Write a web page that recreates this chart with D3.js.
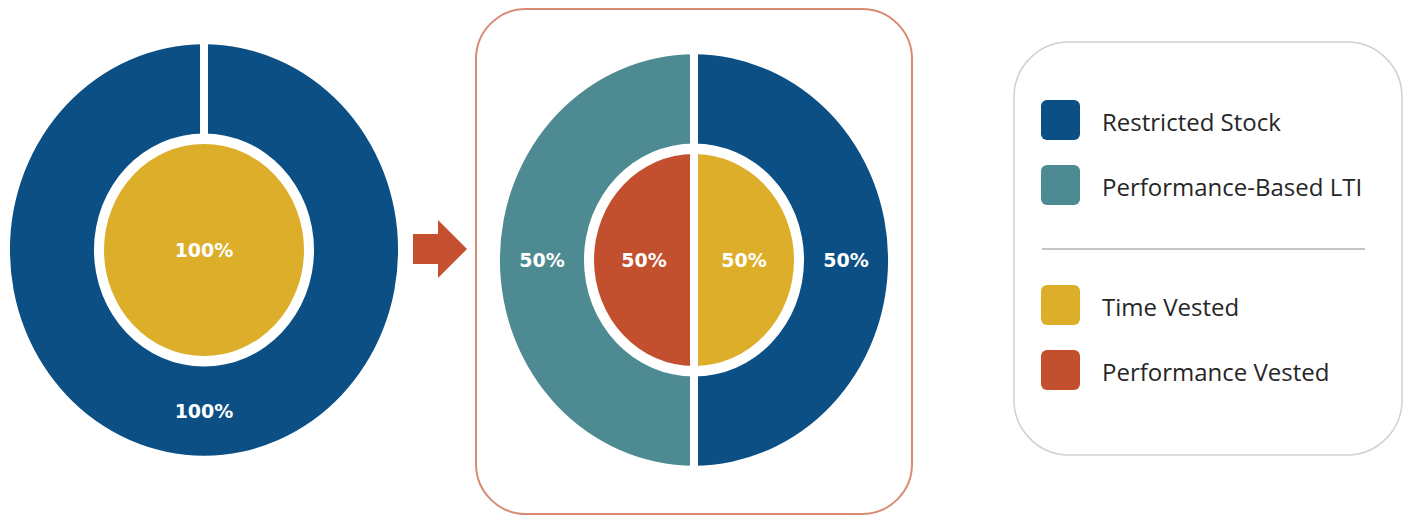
<!DOCTYPE html>
<html>
<head>
<meta charset="utf-8">
<script src="https://cdn.jsdelivr.net/npm/d3@7"></script>
<style>
  html, body { margin: 0; padding: 0; background: #fff; }
  svg { display: block; }
</style>
</head>
<body>
<div id="chart"></div>
<script>
// award vehicles (outer ring) and vesting types (inner pie)
const vehicles = ["Restricted Stock", "Performance-Based LTI"];
const vesting = ["Time Vested", "Performance Vested"];

const beforeVehicleShare = [100, 0];
const beforeVestingShare = [100, 0];
const afterVehicleShare = [50, 50];
const afterVestingShare = [50, 50];

const legendLabels = ["Restricted Stock", "Performance-Based LTI", "Time Vested", "Performance Vested"];

const width = 1409;
const height = 519;

const color = d3.scaleOrdinal()
    .domain(legendLabels)
    .range(["#0b4f84", "#4e8a91", "#ddae2a", "#c24f2e"]);

const svg = d3.select("#chart")
    .append("svg")
    .attr("width", width)
    .attr("height", height);

const pie = d3.pie().sort(null).value(d => d.value);

const outerR = 194, ringInner = 110, innerR = 100;
const squash = 1.06; // the picture is a bit taller than wide

function drawDonut(cx, cy, vehicleShare, vestingShare) {
    const g = svg.append("g")
        .attr("transform", `translate(${cx},${cy}) scale(1,${squash})`);
    const labels = svg.append("g");

    const rings = [
        { data: vehicles.map((k, i) => ({ key: k, value: vehicleShare[i] })), r0: ringInner, r1: outerR, alwaysGap: true },
        { data: vesting.map((k, i) => ({ key: k, value: vestingShare[i] })), r0: 0, r1: innerR, alwaysGap: false }
    ];

    rings.forEach(ring => {
        const arcs = pie(ring.data).filter(d => d.value > 0);
        const arc = d3.arc().innerRadius(ring.r0).outerRadius(ring.r1);

        g.append("g")
            .selectAll("path")
            .data(arcs)
            .enter().append("path")
            .attr("d", arc)
            .attr("fill", d => color(d.data.key));

        // white separators between slices
        if (ring.alwaysGap || arcs.length > 1) {
            g.append("g")
                .selectAll("line")
                .data(arcs)
                .enter().append("line")
                .attr("x1", d => Math.sin(d.startAngle) * (ring.r0 - 2))
                .attr("y1", d => -Math.cos(d.startAngle) * (ring.r0 - 2))
                .attr("x2", d => Math.sin(d.startAngle) * (ring.r1 + 2))
                .attr("y2", d => -Math.cos(d.startAngle) * (ring.r1 + 2))
                .attr("stroke", "#fff")
                .attr("stroke-width", 8);
        }

        labels.selectAll(null)
            .data(arcs)
            .enter().append("text")
            .attr("x", d => {
                if (ring.r0 === 0 && arcs.length === 1) return cx;
                return cx + arc.centroid(d)[0];
            })
            .attr("y", d => {
                if (ring.r0 === 0 && arcs.length === 1) return cy;
                return cy + arc.centroid(d)[1] * squash;
            })
            .attr("text-anchor", "middle")
            .attr("dominant-baseline", "central")
            .attr("fill", "#fff")
            .attr("font-family", "DejaVu Sans")
            .attr("font-weight", "bold")
            .attr("font-size", 19)
            .text(d => d.value + "%");
    });
}

// highlight box round the new mix
svg.append("rect")
    .attr("x", 476)
    .attr("y", 9)
    .attr("width", 436)
    .attr("height", 505)
    .attr("rx", 50)
    .attr("fill", "none")
    .attr("stroke", "#d98a72")
    .attr("stroke-width", 2);

drawDonut(204, 250, beforeVehicleShare, beforeVestingShare);
drawDonut(694, 260, afterVehicleShare, afterVestingShare);

// arrow
svg.append("path")
    .attr("d", "M413,234 L438,234 L438,220 L467,249 L438,278 L438,264 L413,264 Z")
    .attr("fill", "#c4502f");

// legend
const legend = svg.append("g");
legend.append("rect")
    .attr("x", 1014)
    .attr("y", 42)
    .attr("width", 388)
    .attr("height", 413)
    .attr("rx", 55)
    .attr("fill", "#fff")
    .attr("stroke", "#d0d0d0")
    .attr("stroke-width", 1.5);

const legendY = [120, 185, 305, 370];

const item = legend.selectAll("g.item")
    .data(legendLabels)
    .enter().append("g")
    .attr("class", "item")
    .attr("transform", (d, i) => `translate(1041,${legendY[i]})`);

item.append("rect")
    .attr("x", 0)
    .attr("y", -20)
    .attr("width", 39)
    .attr("height", 40)
    .attr("rx", 6)
    .attr("fill", d => color(d));

item.append("text")
    .attr("x", 61)
    .attr("y", 1)
    .attr("dominant-baseline", "central")
    .attr("font-family", "Open Sans")
    .attr("font-size", 24)
    .attr("textLength", d => null)
    .attr("fill", "#262626")
    .text(d => d);

legend.append("line")
    .attr("x1", 1042)
    .attr("x2", 1365)
    .attr("y1", 249)
    .attr("y2", 249)
    .attr("stroke", "#c4c4c4")
    .attr("stroke-width", 2);
</script>
</body>
</html>
